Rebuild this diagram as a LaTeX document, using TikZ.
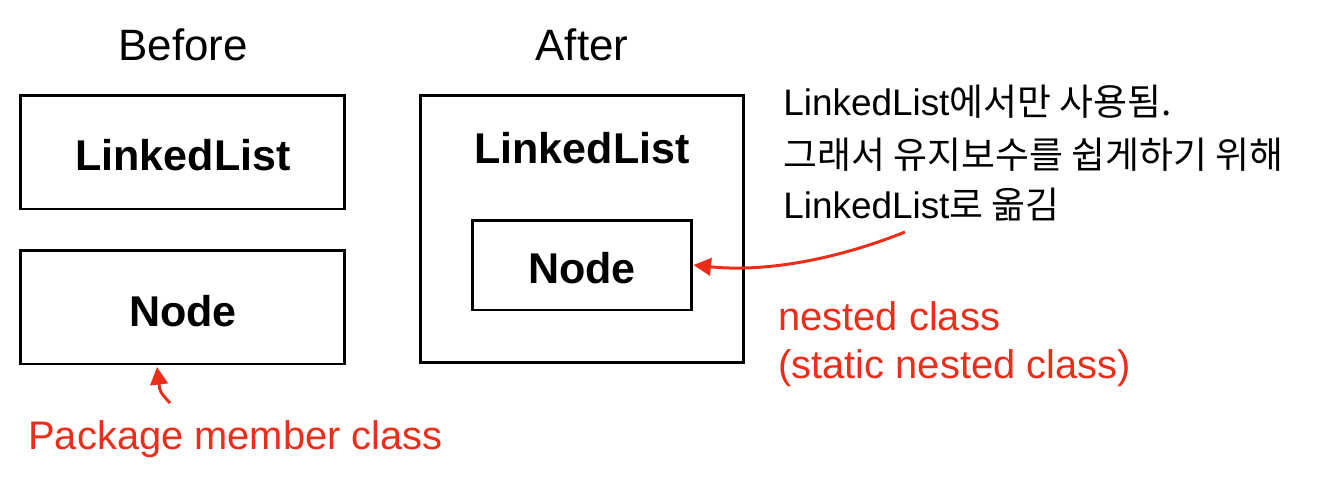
\documentclass[tikz,border=0pt]{standalone}
\usepackage{fontspec}
\setmainfont{Liberation Sans}
\newfontfamily\kr{Noto Sans CJK KR}
\usetikzlibrary{arrows.meta}
\definecolor{note}{RGB}{236,45,25}
\begin{document}
\begin{tikzpicture}[x=0.02cm,y=-0.02cm]
  \tikzstyle{classbox}=[draw,line width=1.7pt,inner sep=0pt]
  \tikzstyle{headtext}=[font=\fontsize{25}{30}\selectfont,anchor=base,inner sep=0pt]
  \tikzstyle{classtext}=[font=\fontsize{24.5}{30}\selectfont\bfseries,anchor=base,inner sep=0pt]
  \tikzstyle{redtext}=[font=\fontsize{22.7}{28}\selectfont,text=note,anchor=base west,inner sep=0pt]
  \tikzstyle{memotext}=[font=\fontsize{21}{26}\selectfont,anchor=base west,inner sep=0pt]
  \tikzstyle{pointer}=[note,line width=1.7pt,-{Triangle[length=10pt,width=10pt]}]
  \useasboundingbox (0,0) rectangle (1340,485);

  % Before
  \node[headtext] (B_t) at (183,60) {Before};
  \node[classbox,minimum width=6.5cm,minimum height=2.28cm] (B_1) at (182.5,152) {};
  \node[classtext] (B_1t) at (183,170) {LinkedList};
  \node[classbox,minimum width=6.5cm,minimum height=2.28cm] (B_2) at (182.5,307) {};
  \node[classtext] (B_2t) at (183,326) {Node};
  \node[redtext] (B_n) at (28,449) {Package member class};
  \coordinate (B_a) at (170,403);
  \coordinate (B_h) at (157,367);
  \draw[pointer] (B_a) .. controls (160,392) .. (B_h);

  % After
  \node[headtext] (A_t) at (582,60) {After};
  \node[classbox,minimum width=6.48cm,minimum height=5.36cm] (A_1) at (582,229) {};
  \node[classtext] (A_1t) at (582,163) {LinkedList};
  \node[classbox,minimum width=4.4cm,minimum height=1.8cm] (A_2) at (582,265) {};
  \node[classtext] (A_2t) at (582,283) {Node};
  \node[redtext] (A_n1) at (778,330) {nested class};
  \node[redtext] (A_n2) at (778,378) {(static nested class)};
  \node[memotext] (M_1) at (783,115) {LinkedList{\kr 에서만 사용됨.}};
  \node[memotext] (M_2) at (783,168) {\kr 그래서 유지보수를 쉽게하기 위해};
  \node[memotext] (M_3) at (783,218) {LinkedList{\kr 로 옮김}};
  \coordinate (A_a) at (905,232);
  \draw[pointer] (A_a) .. controls (830,262) and (760,272) .. (A_2.east);
\end{tikzpicture}
\end{document}
